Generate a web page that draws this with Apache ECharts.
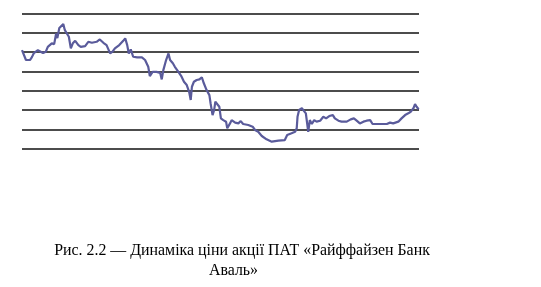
<!DOCTYPE html>
<html>
<head>
<meta charset="utf-8">
<script src="https://cdn.jsdelivr.net/npm/echarts@6/dist/echarts.min.js"></script>
<style>
html,body{margin:0;padding:0;background:#fff;}
#chart{width:541px;height:287px;}
</style>
</head>
<body>
<div id="chart"></div>
<script>
// time index (0..100) along the period
var timeIdx = [0,0.5,1.0,1.5,2.0,2.5,3.0,3.5,4.0,4.7,5.3,6.0,6.5,7.5,8.1,8.6,8.9,9.4,9.9,10.4,10.8,11.3,11.8,12.3,12.8,13.4,14.2,14.8,15.9,16.7,17.6,18.8,19.6,20.5,21.3,22.2,22.8,23.4,24.5,25.5,26.0,26.5,26.9,27.4,28.0,29.0,30.2,31.0,31.8,32.2,32.9,33.9,34.8,35.2,35.6,36.3,36.9,37.3,38.0,38.5,39.4,40.2,40.8,41.5,42.1,42.5,42.8,43.3,44.0,44.7,45.3,45.8,46.5,47.2,47.5,48.0,48.4,48.7,49.2,49.7,50.1,50.7,51.4,51.7,52.4,52.8,53.7,54.5,55.1,55.7,57.0,58.1,58.7,59.5,60.4,61.6,62.9,64.6,66.2,66.8,67.9,68.8,69.2,69.4,69.8,70.5,71.0,71.5,71.9,72.1,72.5,73.0,73.6,74.2,75.1,75.9,76.6,77.4,78.3,78.8,79.7,80.5,81.8,82.8,83.6,84.3,85.1,86.0,86.8,87.7,88.3,89.3,90.6,91.9,92.7,93.5,94.8,95.6,96.5,97.3,97.9,98.6,99.0,99.4,99.9];
// share price (relative units)
var price = [5.10,5.02,4.59,4.50,4.59,4.74,4.95,4.85,5.10,5.02,4.95,5.02,5.27,5.45,5.41,5.96,5.72,6.24,6.30,6.44,6.13,5.96,5.79,5.19,5.45,5.58,5.36,5.27,5.31,5.53,5.48,5.53,5.65,5.48,5.36,4.93,5.02,5.19,5.36,5.58,5.71,5.36,4.93,5.14,4.76,4.73,4.73,4.59,4.24,3.76,3.98,3.98,3.93,3.59,4.07,4.59,4.93,4.59,4.42,4.24,3.98,3.73,3.47,3.30,2.95,2.53,3.21,3.47,3.56,3.59,3.70,3.39,3.04,2.78,2.36,1.75,2.01,2.44,2.36,2.18,1.58,1.49,1.41,1.07,1.32,1.49,1.36,1.32,1.44,1.29,1.24,1.15,0.98,0.89,0.67,0.50,0.38,0.43,0.46,0.72,0.81,0.89,1.07,1.66,2.01,2.10,1.97,1.84,1.75,0.89,1.49,1.29,1.49,1.41,1.46,1.66,1.58,1.70,1.75,1.58,1.46,1.41,1.41,1.53,1.58,1.46,1.32,1.41,1.46,1.49,1.29,1.29,1.29,1.29,1.36,1.32,1.41,1.58,1.75,1.84,1.92,2.10,2.32,2.18,2.05];
var captionLines = ['Рис. 2.2 — Динаміка ціни акції ПАТ «Райффайзен Банк', 'Аваль»'];

var data = timeIdx.map(function(t,i){return [t, price[i]];});
var chart = echarts.init(document.getElementById('chart'), null, {renderer:'canvas'});
chart.setOption({
  backgroundColor:'#fff',
  animation:false,
  grid:{left:22, right:122, top:13.3, height:135.7},
  xAxis:{type:'value', min:0, max:100, show:false},
  yAxis:{type:'value', min:0, max:7, interval:1,
    axisLine:{show:false}, axisTick:{show:false}, axisLabel:{show:false},
    splitLine:{show:true, lineStyle:{color:'#111', width:1.5}}},
  series:[{type:'line', data:data, symbol:'none', smooth:false,
    lineStyle:{color:'#5a5b9b', width:2.2}}],
  graphic:[
    {type:'text', style:{text:captionLines[0], x:242, y:251, textAlign:'center', textVerticalAlign:'middle', font:'15.9px "Liberation Serif"', fill:'#000'}},
    {type:'text', style:{text:captionLines[1], x:233.5, y:271, textAlign:'center', textVerticalAlign:'middle', font:'15.9px "Liberation Serif"', fill:'#000'}}
  ]
});
</script>
</body>
</html>
